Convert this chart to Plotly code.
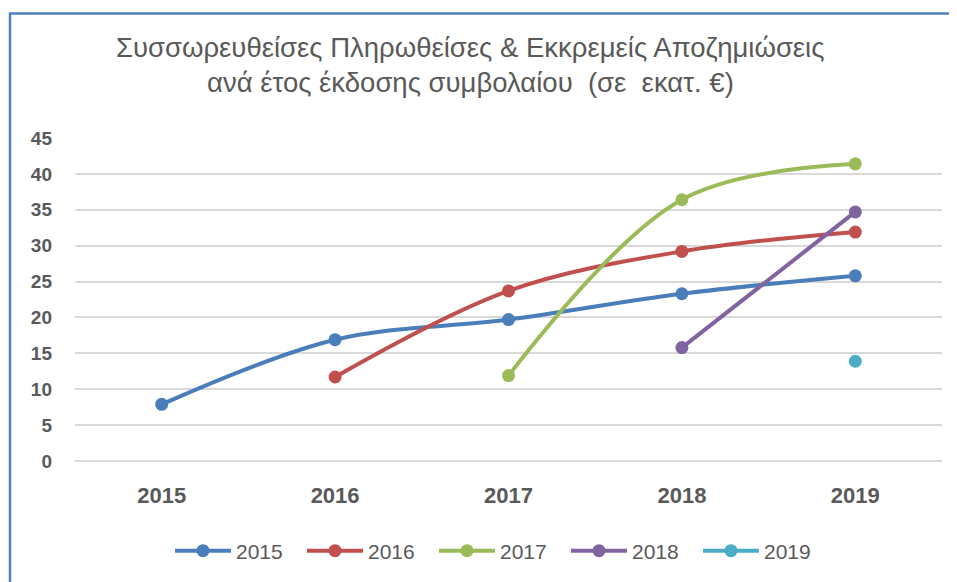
import plotly.graph_objects as go

categories = ["2015", "2016", "2017", "2018", "2019"]
series_names = ["2015", "2016", "2017", "2018", "2019"]
series_values = {
    "2015": [7.9, 16.9, 19.7, 23.3, 25.8],
    "2016": [None, 11.7, 23.7, 29.2, 31.9],
    "2017": [None, None, 11.9, 36.4, 41.4],
    "2018": [None, None, None, 15.8, 34.7],
    "2019": [None, None, None, None, 13.9],
}
colors = ["#4a7ebb", "#c0504d", "#9bbb59", "#8064a2", "#4bacc6"]
y_ticks = [0, 5, 10, 15, 20, 25, 30, 35, 40, 45]

title_lines = ["Συσσωρευθείσες Πληρωθείσες & Εκκρεμείς Αποζημιώσεις",
               "ανά έτος έκδοσης συμβολαίου  (σε  εκατ. €)"]

fig = go.Figure()
for name, col in zip(series_names, colors):
    fig.add_trace(go.Scatter(
        x=categories, y=series_values[name], name=name, mode="lines+markers",
        line=dict(color=col, width=4, shape="spline", smoothing=1.0),
        marker=dict(color=col, size=13),
        connectgaps=False,
    ))

font_main = "Liberation Sans, Arial"
OFF = 8  # page body margin
WIN_W, WIN_H = 957, 582
W, H = WIN_W - OFF, WIN_H - OFF
# plot area in window coordinates
PX0, PX1, PY0, PY1 = 75, 942, 138, 462
ml, mr = PX0 - OFF, W - (PX1 - OFF)
mt, mb = PY0 - OFF, H - (PY1 - OFF)
pw, ph = PX1 - PX0, PY1 - PY0

def px(x):
    return (x - PX0) / pw

def py(y):
    return (PY1 - y) / ph

fig.update_layout(
    width=W, height=H,
    margin=dict(l=ml, r=mr, t=mt, b=mb),
    paper_bgcolor="white", plot_bgcolor="white",
    showlegend=True,
    legend=dict(orientation="h", x=px(500), xanchor="center", y=py(551), yanchor="middle",
                font=dict(family=font_main, size=21, color="#595959"),
                itemwidth=56, entrywidth=61, entrywidthmode="pixels", traceorder="normal"),
    xaxis=dict(type="category", range=[-0.5, 4.5], showgrid=False, showline=False,
               ticks="", ticklabelstandoff=19,
               tickfont=dict(family=font_main, size=22, color="#595959", weight="bold")),
    yaxis=dict(range=[0, 45], tickvals=y_ticks, showgrid=True, gridcolor="#d9d9d9", gridwidth=1.5,
               zeroline=True, zerolinecolor="#d9d9d9", zerolinewidth=1.5, showline=False,
               ticks="", ticklabelstandoff=22,
               tickfont=dict(family=font_main, size=19, color="#595959", weight="bold")),
)

fig.add_annotation(text=title_lines[0], xref="paper", yref="paper", x=px(470), y=py(47),
                   xanchor="center", yanchor="middle", showarrow=False,
                   font=dict(family=font_main, size=27.5, color="#595959"))
fig.add_annotation(text=title_lines[1], xref="paper", yref="paper", x=px(470), y=py(82),
                   xanchor="center", yanchor="middle", showarrow=False,
                   font=dict(family=font_main, size=27.5, color="#595959"))

fig.add_shape(type="path", xref="paper", yref="paper",
              path=f"M {px(10)} {py(590)} L {px(10)} {py(13)} L {px(960)} {py(13)}",
              line=dict(color="#4f81bd", width=2.5))

fig.write_html("out.html")
